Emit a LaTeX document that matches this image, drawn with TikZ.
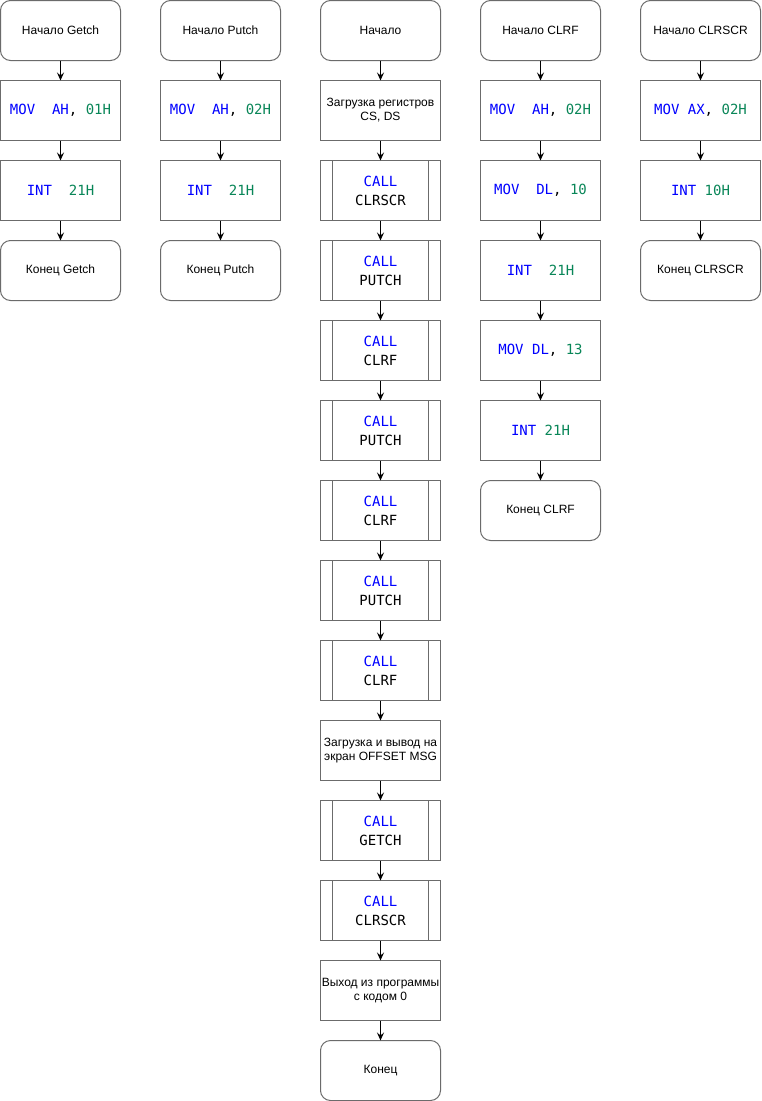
\documentclass[tikz,border=0pt]{standalone}
\usepackage{fontspec}
\setmainfont{Liberation Sans}
\newfontfamily\codefont{DejaVu Sans Mono}
\usetikzlibrary{arrows.meta}
\definecolor{linegray}{HTML}{6B6B6B}
\definecolor{kwblue}{HTML}{0000FF}
\definecolor{numgreen}{HTML}{098658}
\newcommand\kw[1]{\textcolor{kwblue}{#1}}
\newcommand\cnum[1]{\textcolor{numgreen}{#1}}
\tikzset{
  box/.style={draw=linegray, line width=1pt, minimum width=120pt, minimum height=60pt,
    inner sep=1pt, outer sep=0pt, align=center, fill=white,
    font=\fontsize{12}{14}\selectfont},
  term/.style={box, rounded corners=10pt},
  code/.style={box, font=\codefont\fontsize{14}{19}\selectfont},
  arr/.style={-{Stealth[length=8pt,width=7pt,inset=3pt]}, line width=1pt, black},
  subline/.style={draw=linegray, line width=1pt},
}
\begin{document}
\begin{tikzpicture}[x=1pt,y=-1pt]
\useasboundingbox (0,0) rectangle (761,1101);
\begin{scope}[shift={(0.5,0.5)}]
% Column 1: Getch
\node[term] (g1) at (60,30) {Начало Getch};
\node[code] (g2) at (60,110) {\kw{MOV\ \ AH}, \cnum{01H}};
\node[code] (g3) at (60,190) {\kw{INT}\ \ \cnum{21H}};
\node[term] (g4) at (60,270) {Конец Getch};
% Column 2: Putch
\node[term] (p1) at (220,30) {Начало Putch};
\node[code] (p2) at (220,110) {\kw{MOV\ \ AH}, \cnum{02H}};
\node[code] (p3) at (220,190) {\kw{INT}\ \ \cnum{21H}};
\node[term] (p4) at (220,270) {Конец Putch};
% Column 3: main
\node[term] (m1) at (380,30) {Начало};
\node[box] (m2) at (380,110) {Загрузка регистров\\CS, DS};
\node[code] (m3) at (380,190) {\kw{CALL}\\CLRSCR};
\node[code] (m4) at (380,270) {\kw{CALL}\\PUTCH};
\node[code] (m5) at (380,350) {\kw{CALL}\\CLRF};
\node[code] (m6) at (380,430) {\kw{CALL}\\PUTCH};
\node[code] (m7) at (380,510) {\kw{CALL}\\CLRF};
\node[code] (m8) at (380,590) {\kw{CALL}\\PUTCH};
\node[code] (m9) at (380,670) {\kw{CALL}\\CLRF};
\node[box] (m10) at (380,750) {Загрузка и вывод на\\экран OFFSET MSG};
\node[code] (m11) at (380,830) {\kw{CALL}\\GETCH};
\node[code] (m12) at (380,910) {\kw{CALL}\\CLRSCR};
\node[box] (m13) at (380,990) {Выход из программы\\с кодом 0};
\node[term] (m14) at (380,1070) {Конец};
% Column 4: CLRF
\node[term] (c1) at (540,30) {Начало CLRF};
\node[code] (c2) at (540,110) {\kw{MOV\ \ AH}, \cnum{02H}};
\node[code] (c3) at (540,190) {\kw{MOV\ \ DL}, \cnum{10}};
\node[code] (c4) at (540,270) {\kw{INT}\ \ \cnum{21H}};
\node[code] (c5) at (540,350) {\kw{MOV DL}, \cnum{13}};
\node[code] (c6) at (540,430) {\kw{INT} \cnum{21H}};
\node[term] (c7) at (540,510) {Конец CLRF};
% Column 5: CLRSCR
\node[term] (s1) at (700,30) {Начало CLRSCR};
\node[code] (s2) at (700,110) {\kw{MOV AX}, \cnum{02H}};
\node[code] (s3) at (700,190) {\kw{INT} \cnum{10H}};
\node[term] (s4) at (700,270) {Конец CLRSCR};
% subprocess inner lines
\foreach \n in {m3,m4,m5,m6,m7,m8,m9,m11,m12}{
  \draw[subline] ([xshift=12pt]\n.north west) -- ([xshift=12pt]\n.south west);
  \draw[subline] ([xshift=-12pt]\n.north east) -- ([xshift=-12pt]\n.south east);
}
% arrows
\foreach \a/\b in {g1/g2,g2/g3,g3/g4,p1/p2,p2/p3,p3/p4,
  m1/m2,m2/m3,m3/m4,m4/m5,m5/m6,m6/m7,m7/m8,m8/m9,m9/m10,m10/m11,m11/m12,m12/m13,m13/m14,
  c1/c2,c2/c3,c3/c4,c4/c5,c5/c6,c6/c7,s1/s2,s2/s3,s3/s4}
  \draw[arr] (\a) -- (\b);
\end{scope}
\end{tikzpicture}
\end{document}
